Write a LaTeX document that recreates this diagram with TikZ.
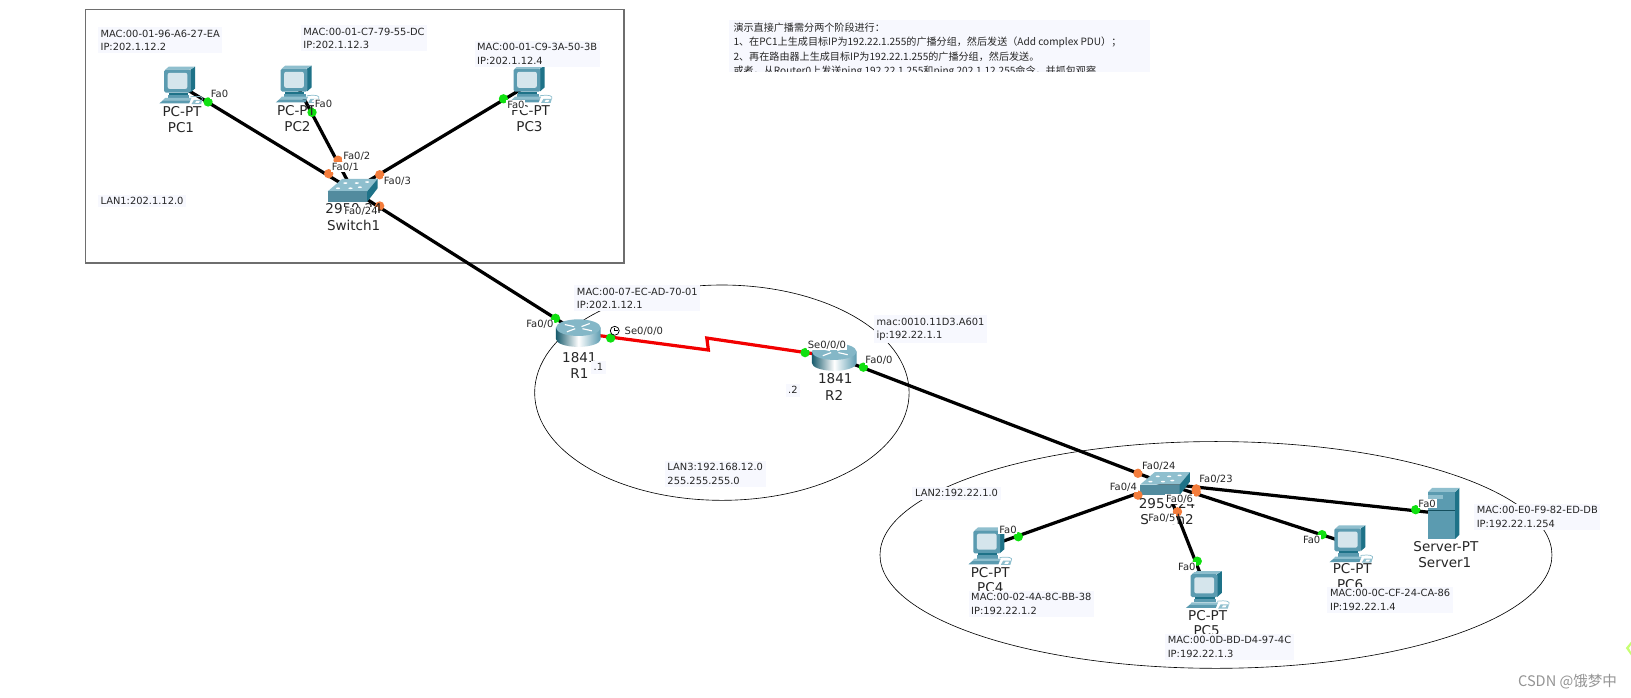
\documentclass[tikz,border=0pt]{standalone}
\usepackage{fontspec}
\setmainfont{DejaVu Sans}
\newfontfamily\cjk{Noto Sans CJK SC}
\definecolor{noteBg}{HTML}{F7F8FE}
\definecolor{tealA}{HTML}{5B9BB0}
\definecolor{tealB}{HTML}{1E7288}
\definecolor{tealC}{HTML}{8FBFCE}
\definecolor{screenC}{HTML}{D5E5EC}
\definecolor{frameC}{HTML}{6E6E6E}
\definecolor{portOrange}{HTML}{F47D3C}
\definecolor{portGreen}{HTML}{10E010}
\tikzset{
  anchorpt/.style={inner sep=0pt,minimum size=0pt,outer sep=0pt},
  link/.style={line width=3.1pt,black},
  serial/.style={line width=3.1pt,red!95!black},
  gdot/.style={circle,fill=portGreen,inner sep=0pt,minimum size=9pt},
  odot/.style={circle,fill=portOrange,inner sep=0pt,minimum size=9pt},
  port/.style={font=\fontsize{9.6}{10}\selectfont,fill=white,inner sep=0.8pt,text=black!85},
  devtext/.style={font=\fontsize{13}{14}\selectfont,inner sep=0pt,text=black!85},
  note/.style={font=\fontsize{9.5}{13}\selectfont,fill=noteBg,inner sep=2.5pt,anchor=north west,align=left,text=black!85},
  ring/.style={line width=0.6pt,black},
  pc/.pic={
    \begin{scope}[xscale=1.15,xshift=-1.3pt]
    \fill[tealB] (10,-15) -- (14,-18) -- (14,3) -- (10,7) -- cycle;
    \fill[tealC] (-11,-15) -- (-8,-18) -- (14,-18) -- (10,-15) -- cycle;
    \fill[tealA,rounded corners=1.5pt] (-12,-15) rectangle (10.5,7);
    \fill[screenC,rounded corners=2pt] (-9,-12) rectangle (7.5,3.5);
    \fill[tealB] (-8,7) rectangle (8,9);
    \fill[tealA] (-9,9) rectangle (9,12);
    \fill[tealC] (-11,12) -- (11,12) -- (10,14.5) -- (-13,14.5) -- cycle;
    \fill[tealA] (-13,14.5) -- (10,14.5) -- (9,17.5) -- (-16,17.5) -- cycle;
    \draw[tealC,line width=0.7pt] (10,11) .. controls (18,10) and (21,11) .. (20,14);
    \fill[tealC] (13,14) -- (20,14) -- (19,18) -- (11,18) -- cycle;
    \fill[white] (15,15) -- (18,15) -- (17,17) -- (14,17) -- cycle;
    \end{scope}
  },
  routerpic/.pic={
    \shade[left color=tealB!80!black,right color=tealA,middle color=white]
      (-21.5,-5) -- (-21.5,6) arc[start angle=180,end angle=0,x radius=21.5,y radius=7.5] -- (21.5,-5) -- cycle;
    \fill[tealC!90!tealB] (0,-5) ellipse [x radius=21.5,y radius=8];
    \draw[white,line width=1.1pt] (-13,-8) -- (-4,-6) (4,-4) -- (13,-2) (-11,-1) -- (-3,-4) (3,-6) -- (11,-9);
  },
  switchpic/.pic={
    \fill[tealC] (-24,1) -- (-10,-11) -- (24,-11) -- (14,1) -- cycle;
    \fill[tealA!90!black] (-24,1) rectangle (14,11);
    \fill[tealB] (14,1) -- (24,-11) -- (24,-2) -- (14,11) -- cycle;
    \foreach \a/\b in {-14/-2,-7/-7,4/-7,14/-8,-2/-2,7/-3}{\fill[white] (\a,\b) ellipse [x radius=2,y radius=0.8];}
  },
  serverpic/.pic={
    \fill[tealB] (11,-21) -- (15,-25) -- (15,20) -- (11,24) -- cycle;
    \fill[tealC] (-15,-21) -- (-11,-25) -- (15,-25) -- (11,-21) -- cycle;
    \fill[tealA] (-15,-21) rectangle (11,24);
    \fill[tealC] (-15,-18) rectangle (-1,-14);
    \draw[tealB!70!black,line width=0.5pt] (-15,-3) -- (11,-3);
  },
}
\begin{document}
\begin{tikzpicture}[x=1pt,y=-1pt]
\useasboundingbox (0,0) rectangle (1568,671);
\fill[white] (0,0) rectangle (1568,671);

% device anchors
\node[anchorpt] (PC1) at (173,82) {};
\node[anchorpt] (PC2) at (285,81) {};
\node[anchorpt] (PC3) at (509,81) {};
\node[anchorpt] (SW1) at (339,183) {};
\node[anchorpt] (R1) at (556,320) {};
\node[anchorpt] (R2) at (802,343) {};
\node[anchorpt] (SW2) at (1120,465) {};
\node[anchorpt] (PC4) at (951,525) {};
\node[anchorpt] (PC5) at (1160,567) {};
\node[anchorpt] (PC6) at (1298,523) {};
\node[anchorpt] (SRV) at (1388,494) {};
\coordinate (zigA) at (681,336.5);
\coordinate (zigB) at (679.5,325);

% frame and rings
\draw[frameC,line width=1.3pt] (82,9) rectangle (600,253);
\draw[ring] (694,377.5) ellipse [x radius=180,y radius=103.5];
\draw[ring] (1169,533.5) ellipse [x radius=323,y radius=109];

% links
\draw[link] (PC1.center) -- (SW1.center);
\draw[link] (PC2.center) -- (SW1.center);
\draw[link] (PC3.center) -- (SW1.center);
\draw[link] (SW1.center) -- (R1.center);
\draw[serial] (R1.center) -- (zigA) -- (zigB) -- (R2.center);
\draw[link] (R2.center) -- (SW2.center);
\draw[link] (PC4.center) -- (SW2.center);
\draw[link] (PC5.center) -- (SW2.center);
\draw[link] (PC6.center) -- (SW2.center);
\draw[link] (SRV.center) -- (SW2.center);

% device icons
\pic at (PC1) {pc};
\pic at (PC2) {pc};
\pic at (PC3) {pc};
\pic at (SW1) {switchpic};
\pic at (R1) {routerpic};
\pic at (R2) {routerpic};
\pic at (SW2) {switchpic};
\pic at (PC4) {pc};
\pic at (PC5) {pc};
\pic at (PC6) {pc};
\pic at (SRV) {serverpic};

% interface dots
\node[gdot] (d1) at (200,98) {};
\node[gdot] (d2) at (300,108) {};
\node[gdot] (d3) at (484,95) {};
\node[odot] (o1) at (316,167) {};
\node[odot] (o2) at (325,154) {};
\node[odot] (o3) at (365,168) {};
\node[odot] (o4) at (365,198) {};
\node[gdot] (d4) at (534,306) {};
\node[gdot] (d5) at (587,325) {};
\node[gdot] (d6) at (774,339) {};
\node[gdot] (d7) at (830,353) {};
\node[odot] (o5) at (1094,455) {};
\node[odot] (o6) at (1094,476) {};
\node[odot] (o7) at (1150,470) {};
\node[odot] (o8) at (1150,473) {};
\node[odot] (o9) at (1132,492) {};
\node[gdot] (d8) at (979,516) {};
\node[gdot] (d9) at (1151,539.5) {};
\node[gdot] (d10) at (1271,514) {};
\node[gdot] (d11) at (1361,490) {};

% device texts
\node[devtext] (t1a) at (175,107) {PC-PT};
\node[devtext] (t1b) at (174,122.5) {PC1};
\node[devtext] (t2a) at (285,106) {PC-PT};
\node[devtext] (t2b) at (286,122) {PC2};
\node[devtext] (t3a) at (510,106) {PC-PT};
\node[devtext] (t3b) at (509,122) {PC3};
\node[devtext] (t4a) at (340,201) {2950-24};
\node[devtext] (t4b) at (340,217) {Switch1};
\node[devtext] (t5a) at (557,344) {1841};
\node[devtext] (t5b) at (557,359) {R1};
\node[devtext] (t6a) at (803,364) {1841};
\node[devtext] (t6b) at (802,380) {R2};
\node[devtext] (t7a) at (1122,484) {2950-24};
\node[devtext] (t7b) at (1122,499) {Switch2};
\node[devtext] (t8a) at (952,550) {PC-PT};
\node[devtext] (t8b) at (952,565) {PC4};
\node[devtext] (t9a) at (1161,591.5) {PC-PT};
\node[devtext] (t9b) at (1160,606) {PC5};
\node[devtext] (t10a) at (1300,547) {PC-PT};
\node[devtext] (t10b) at (1298,562) {PC6};
\node[devtext] (t11a) at (1390,525) {Server-PT};
\node[devtext] (t11b) at (1389,541) {Server1};

% port labels
\node[port] (p1) at (211,90.5) {Fa0};
\node[port] (p2) at (311,100) {Fa0};
\node[port] (p3) at (496,101) {Fa0};
\node[port] (p4) at (343,150) {Fa0/2};
\node[port] (p5) at (332,161) {Fa0/1};
\node[port] (p6) at (382,174) {Fa0/3};
\node[port] (p7) at (347,203.5) {Fa0/24};
\node[port] (p8) at (519,312) {Fa0/0};
\node[port] (p9) at (619,318) {Se0/0/0};
\node[port] (p10) at (795,332) {Se0/0/0};
\node[port] (p11) at (845,346) {Fa0/0};
\node[port] (p12) at (1114,448) {Fa0/24};
\node[port] (p13) at (1080,468.5) {Fa0/4};
\node[port] (p14) at (1169,461) {Fa0/23};
\node[port] (p15) at (1134,480) {Fa0/6};
\node[port] (p16) at (1117,498.5) {Fa0/5};
\node[port] (p17) at (969,509) {Fa0};
\node[port] (p18) at (1141,545) {Fa0};
\node[port] (p19) at (1261,519) {Fa0};
\node[port] (p20) at (1372,484) {Fa0};

% clock
\draw[black,fill=white,line width=0.7pt] (591,318) circle (4.3);
\draw[black,line width=0.7pt] (591,315) -- (591,318) -- (594,318);

% address notes
\node[note] (n1) at (94,26) {MAC:00-01-96-A6-27-EA\\IP:202.1.12.2};
\node[note] (n2) at (289,24) {MAC:00-01-C7-79-55-DC\\IP:202.1.12.3};
\node[note] (n3) at (456,39) {MAC:00-01-C9-3A-50-3B\\IP:202.1.12.4};
\node[note] (n4) at (94,187) {LAN1:202.1.12.0};
\node[note] (n5) at (552,274) {MAC:00-07-EC-AD-70-01\\IP:202.1.12.1};
\node[note] (n6) at (840,303) {mac:0010.11D3.A601\\ip:192.22.1.1};
\node[note] (n7) at (639,443) {LAN3:192.168.12.0\\255.255.255.0};
\node[note] (n8) at (877,468) {LAN2:192.22.1.0};
\node[note] (n9) at (931,568) {MAC:00-02-4A-8C-BB-38\\IP:192.22.1.2};
\node[note] (n10) at (1120,609) {MAC:00-0D-BD-D4-97-4C\\IP:192.22.1.3};
\node[note] (n11) at (1276,564) {MAC:00-0C-CF-24-CA-86\\IP:192.22.1.4};
\node[note] (n12) at (1417,484) {MAC:00-E0-F9-82-ED-DB\\IP:192.22.1.254};
\node[note] (n13) at (568,347) {.1};
\node[note] (n14) at (755,369) {.2};

% instructions (clipped at the bottom of their box)
\fill[noteBg] (701,19) rectangle (1106,69);
\begin{scope}
\clip (701,19) rectangle (1106,69);
\node[font=\cjk\fontsize{9.7}{14}\selectfont,anchor=north west,align=left,inner sep=0pt,text=black!85] (instr) at (705,21.5) {演示直接广播需分两个阶段进行：\\1、在PC1上生成目标IP为192.22.1.255的广播分组，然后发送（Add complex PDU）；\\2、再在路由器上生成目标IP为192.22.1.255的广播分组，然后发送。\\或者，从Router0上发送ping 192.22.1.255和ping 202.1.12.255命令，并抓包观察};
\end{scope}

% watermark and the green trace at the right edge
\node[font=\cjk\fontsize{14}{15}\selectfont,text=black!42,inner sep=0pt] (wm) at (1507,655) {CSDN @饿梦中};
\fill[green!40!yellow!55!white] (1568,617) -- (1563,623) -- (1568,630) -- (1568,627) -- (1566,623) -- (1568,620) -- cycle;
\end{tikzpicture}
\end{document}
